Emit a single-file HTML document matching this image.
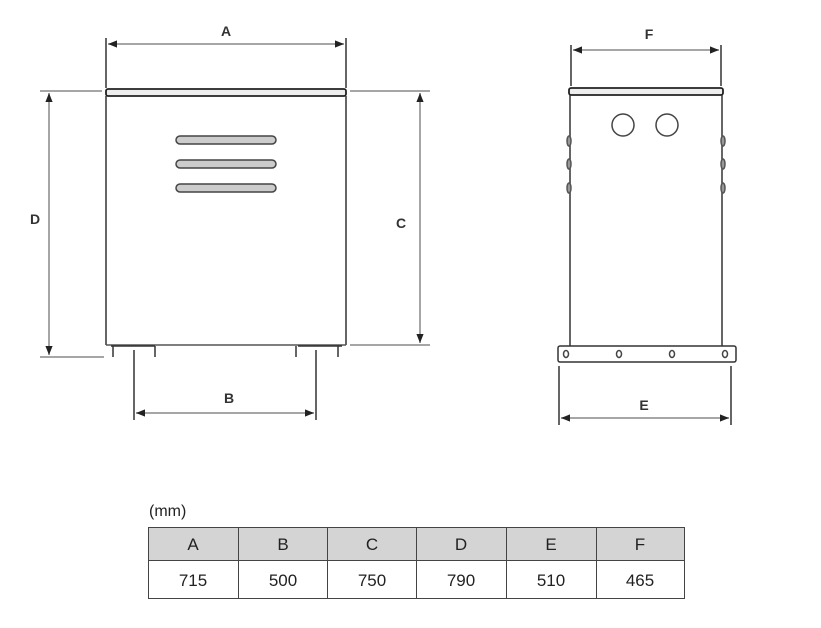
<!DOCTYPE html>
<html><head><meta charset="utf-8"><style>
html,body{margin:0;padding:0;background:#fff;}
svg{display:block;}
</style></head><body>
<svg width="821" height="628" viewBox="0 0 821 628" xmlns="http://www.w3.org/2000/svg">
<defs>
<marker id="ar" viewBox="0 0 10 10" refX="10" refY="5" markerWidth="8" markerHeight="6" orient="auto-start-reverse">
<path d="M0,1 L10,5 L0,9 z" fill="#222"/></marker>
</defs>
<g stroke="#333" stroke-width="1.5" fill="none">
<!-- front view -->
<rect x="106" y="89" width="240" height="7" rx="2" fill="#eee" stroke="#222" stroke-width="1.8"/>
<line x1="106" y1="96" x2="106" y2="345"/>
<line x1="346" y1="96" x2="346" y2="345"/>
<line x1="106" y1="345" x2="346" y2="345" stroke="#555"/>
<path d="M111 346 H155 M298 346 H342"/>
<path d="M113 346 V357 M155 346 V357 M296 346 V357 M338 346 V357" stroke="#333"/>
<!-- slots -->
<g fill="#ccc" stroke="#444" stroke-width="1.5">
<rect x="176" y="136" width="100" height="8" rx="4"/>
<rect x="176" y="160" width="100" height="8" rx="4"/>
<rect x="176" y="184" width="100" height="8" rx="4"/>
</g>
<!-- A -->
<line x1="106" y1="38" x2="106" y2="88" stroke="#333"/>
<line x1="346" y1="38" x2="346" y2="88" stroke="#333"/>
<line x1="108" y1="44" x2="344" y2="44" stroke="#888" marker-start="url(#ar)" marker-end="url(#ar)"/>
<!-- D -->
<line x1="40" y1="91" x2="102" y2="91" stroke="#888"/>
<line x1="40" y1="357" x2="104" y2="357" stroke="#888"/>
<line x1="49" y1="93" x2="49" y2="355" stroke="#888" marker-start="url(#ar)" marker-end="url(#ar)"/>
<!-- C -->
<line x1="350" y1="91" x2="430" y2="91" stroke="#888"/>
<line x1="350" y1="345" x2="430" y2="345" stroke="#888"/>
<line x1="420" y1="93" x2="420" y2="343" stroke="#888" marker-start="url(#ar)" marker-end="url(#ar)"/>
<!-- B -->
<line x1="134" y1="350" x2="134" y2="420" stroke="#333"/>
<line x1="316" y1="350" x2="316" y2="420" stroke="#333"/>
<line x1="136" y1="413" x2="314" y2="413" stroke="#888" marker-start="url(#ar)" marker-end="url(#ar)"/>

<!-- side view -->
<rect x="569" y="88" width="154" height="7" rx="2" fill="#eee" stroke="#222" stroke-width="1.8"/>
<line x1="570" y1="95" x2="570" y2="346"/>
<line x1="722" y1="95" x2="722" y2="346"/>
<circle cx="623" cy="125" r="11" stroke="#444"/>
<circle cx="667" cy="125" r="11" stroke="#444"/>
<g fill="#999" stroke="#555">
<ellipse cx="569" cy="141" rx="2" ry="5"/><ellipse cx="569" cy="164" rx="2" ry="5"/><ellipse cx="569" cy="188" rx="2" ry="5"/>
<ellipse cx="723" cy="141" rx="2" ry="5"/><ellipse cx="723" cy="164" rx="2" ry="5"/><ellipse cx="723" cy="188" rx="2" ry="5"/>
</g>
<rect x="558" y="346" width="178" height="16" rx="2" stroke="#333"/>
<g stroke="#444"><ellipse cx="566" cy="354" rx="2.5" ry="3.5"/><ellipse cx="619" cy="354" rx="2.5" ry="3.5"/><ellipse cx="672" cy="354" rx="2.5" ry="3.5"/><ellipse cx="725" cy="354" rx="2.5" ry="3.5"/></g>
<!-- F -->
<line x1="571" y1="45" x2="571" y2="86" stroke="#333"/>
<line x1="721" y1="45" x2="721" y2="86" stroke="#333"/>
<line x1="573" y1="50" x2="719" y2="50" stroke="#888" marker-start="url(#ar)" marker-end="url(#ar)"/>
<!-- E -->
<line x1="559" y1="366" x2="559" y2="425" stroke="#333"/>
<line x1="731" y1="366" x2="731" y2="425" stroke="#333"/>
<line x1="561" y1="418" x2="729" y2="418" stroke="#888" marker-start="url(#ar)" marker-end="url(#ar)"/>
</g>
<g font-family="Liberation Sans, sans-serif" font-size="14" font-weight="bold" fill="#333" text-anchor="middle">
<text x="226" y="36">A</text>
<text x="35" y="224">D</text>
<text x="401" y="228">C</text>
<text x="229" y="403">B</text>
<text x="649" y="39">F</text>
<text x="644" y="410">E</text>
</g>
<!-- table -->
<text x="149" y="516" font-family="Liberation Sans, sans-serif" font-size="16" fill="#222">(mm)</text>
<rect x="148" y="527" width="537" height="33" fill="#d4d4d4"/>
<g stroke="#444" stroke-width="1" fill="none">
<rect x="148.5" y="527.5" width="536" height="71"/>
<line x1="148" y1="560.5" x2="685" y2="560.5"/>
<line x1="238.5" y1="527" x2="238.5" y2="599"/>
<line x1="327.5" y1="527" x2="327.5" y2="599"/>
<line x1="416.5" y1="527" x2="416.5" y2="599"/>
<line x1="506.5" y1="527" x2="506.5" y2="599"/>
<line x1="596.5" y1="527" x2="596.5" y2="599"/>
</g>
<g font-family="Liberation Sans, sans-serif" font-size="17" fill="#222" text-anchor="middle">
<text x="193" y="550">A</text><text x="283" y="550">B</text><text x="372" y="550">C</text><text x="461" y="550">D</text><text x="551" y="550">E</text><text x="640" y="550">F</text>
<text x="193" y="586">715</text><text x="283" y="586">500</text><text x="372" y="586">750</text><text x="461" y="586">790</text><text x="551" y="586">510</text><text x="640" y="586">465</text>
</g>
</svg>
</body></html>
